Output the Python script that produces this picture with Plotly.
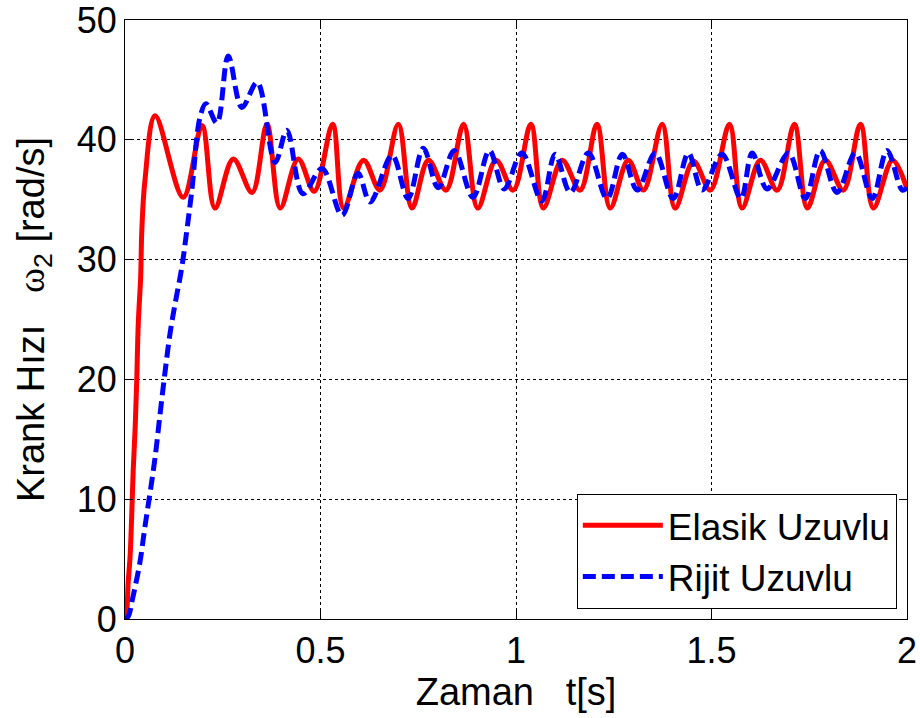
import plotly.graph_objects as go

# Crank speed response, elastic-link mechanism (key points of the trace)
t_elastic = [0.000, 0.004, 0.008, 0.013, 0.017, 0.021, 0.026, 0.030, 0.034, 0.040,
             0.043, 0.051, 0.077, 0.149, 0.197, 0.230, 0.277, 0.325, 0.363, 0.397,
             0.443, 0.484, 0.531, 0.559, 0.610, 0.652, 0.699, 0.734, 0.776, 0.821,
             0.866, 0.902, 0.949, 0.993, 1.038, 1.070, 1.118, 1.164, 1.207, 1.241,
             1.287, 1.326, 1.374, 1.407, 1.454, 1.497, 1.546, 1.578, 1.625, 1.668,
             1.712, 1.745, 1.791, 1.837, 1.881, 1.914, 1.963, 2.000]
w_elastic = [0.0, 0.5, 3.0, 5.2, 8.5, 12.4, 16.0, 19.9, 24.7, 28.5,
             32.4, 36.6, 42.0, 35.2, 41.2, 34.3, 38.4, 35.6, 41.3, 34.3,
             38.4, 35.7, 41.3, 34.3, 38.3, 35.8, 41.3, 34.3, 38.3, 35.8,
             41.3, 34.3, 38.3, 35.8, 41.3, 34.3, 38.3, 35.8, 41.3, 34.3,
             38.3, 35.8, 41.3, 34.3, 38.2, 35.8, 41.3, 34.3, 38.3, 35.8,
             41.3, 34.3, 38.3, 35.8, 41.3, 34.3, 38.3, 35.9]

# Crank speed response, rigid-link mechanism
t_rigid = [0.000, 0.008, 0.020, 0.038, 0.051, 0.064, 0.077, 0.090, 0.102, 0.115,
           0.128, 0.145, 0.158, 0.171, 0.192, 0.207, 0.235, 0.264, 0.299, 0.338,
           0.384, 0.414, 0.455, 0.504, 0.555, 0.596, 0.627, 0.683, 0.724, 0.763,
           0.801, 0.842, 0.890, 0.932, 0.970, 1.015, 1.066, 1.100, 1.139, 1.185,
           1.233, 1.272, 1.310, 1.356, 1.402, 1.441, 1.476, 1.527, 1.575, 1.604,
           1.642, 1.697, 1.740, 1.778, 1.821, 1.868, 1.911, 1.949, 1.988, 2.000]
w_rigid = [0.0, 0.2, 1.8, 4.7, 7.7, 10.5, 13.5, 17.2, 20.5, 23.8,
           26.3, 29.3, 32.4, 35.8, 41.9, 43.0, 41.4, 47.0, 42.7, 44.8,
           38.1, 40.8, 35.5, 37.6, 33.7, 37.2, 34.8, 38.7, 35.1, 39.3,
           36.0, 39.1, 35.2, 39.1, 35.9, 38.9, 34.9, 38.8, 35.6, 38.9,
           35.1, 38.8, 35.8, 38.9, 35.1, 38.9, 35.8, 38.8, 35.1, 38.9,
           35.9, 38.9, 35.1, 39.1, 35.6, 38.9, 35.1, 39.1, 35.8, 36.0]

x_ticks = [0, 0.5, 1, 1.5, 2]
x_tick_text = ["0", "0.5", "1", "1.5", "2"]
y_ticks = [0, 10, 20, 30, 40, 50]
y_tick_text = ["0", "10", "20", "30", "40", "50"]

FONT = "Liberation Sans, Arial, sans-serif"
NB = "\u00a0"

fig = go.Figure()
fig.add_trace(go.Scatter(
    x=t_elastic, y=w_elastic, mode="lines", name="Elasik Uzuvlu",
    line=dict(color="#ff0000", width=5, shape="spline", smoothing=1.0),
))
fig.add_trace(go.Scatter(
    x=t_rigid, y=w_rigid, mode="lines", name="Rijit Uzuvlu",
    line=dict(color="#0000ff", width=5, dash="13px,6px", shape="spline", smoothing=1.0),
))

axis_common = dict(
    showline=True, linecolor="black", linewidth=1, mirror="ticks",
    ticks="inside", ticklen=8, tickcolor="black", tickwidth=1,
    showgrid=True, gridcolor="black", gridwidth=1, griddash="dot",
    zeroline=False, automargin=False, ticklabeloverflow="allow",
    tickfont=dict(family=FONT, size=36, color="black"),
)

fig.update_xaxes(
    range=[0, 2], tickvals=x_ticks, ticktext=x_tick_text,
    title=dict(text=f"Zaman{NB}{NB}{NB}t[s]", font=dict(family=FONT, size=38, color="black"),
               standoff=0),
    **axis_common,
)
fig.update_yaxes(
    range=[0, 50], tickvals=y_ticks, ticktext=y_tick_text,
    title=dict(
        text=(f"Krank Hızı{NB}{NB}{NB}<span style='font-family:Liberation Serif'>ω</span>"
              f"<sub>2</sub>{NB}[rad/s]"),
        font=dict(family=FONT, size=38, color="black"), standoff=20),
    **axis_common,
)

fig.update_layout(
    width=920, height=718,
    margin=dict(l=125, r=13, t=20, b=99),
    paper_bgcolor="white", plot_bgcolor="white",
    font=dict(family=FONT, size=36, color="black"),
    showlegend=True,
    legend=dict(
        x=0.987, y=0.017, xanchor="right", yanchor="bottom",
        bgcolor="white", bordercolor="black", borderwidth=1,
        font=dict(family=FONT, size=37, color="black"),
        itemwidth=80, tracegroupgap=0,
    ),
)

fig.write_html("out.html")
